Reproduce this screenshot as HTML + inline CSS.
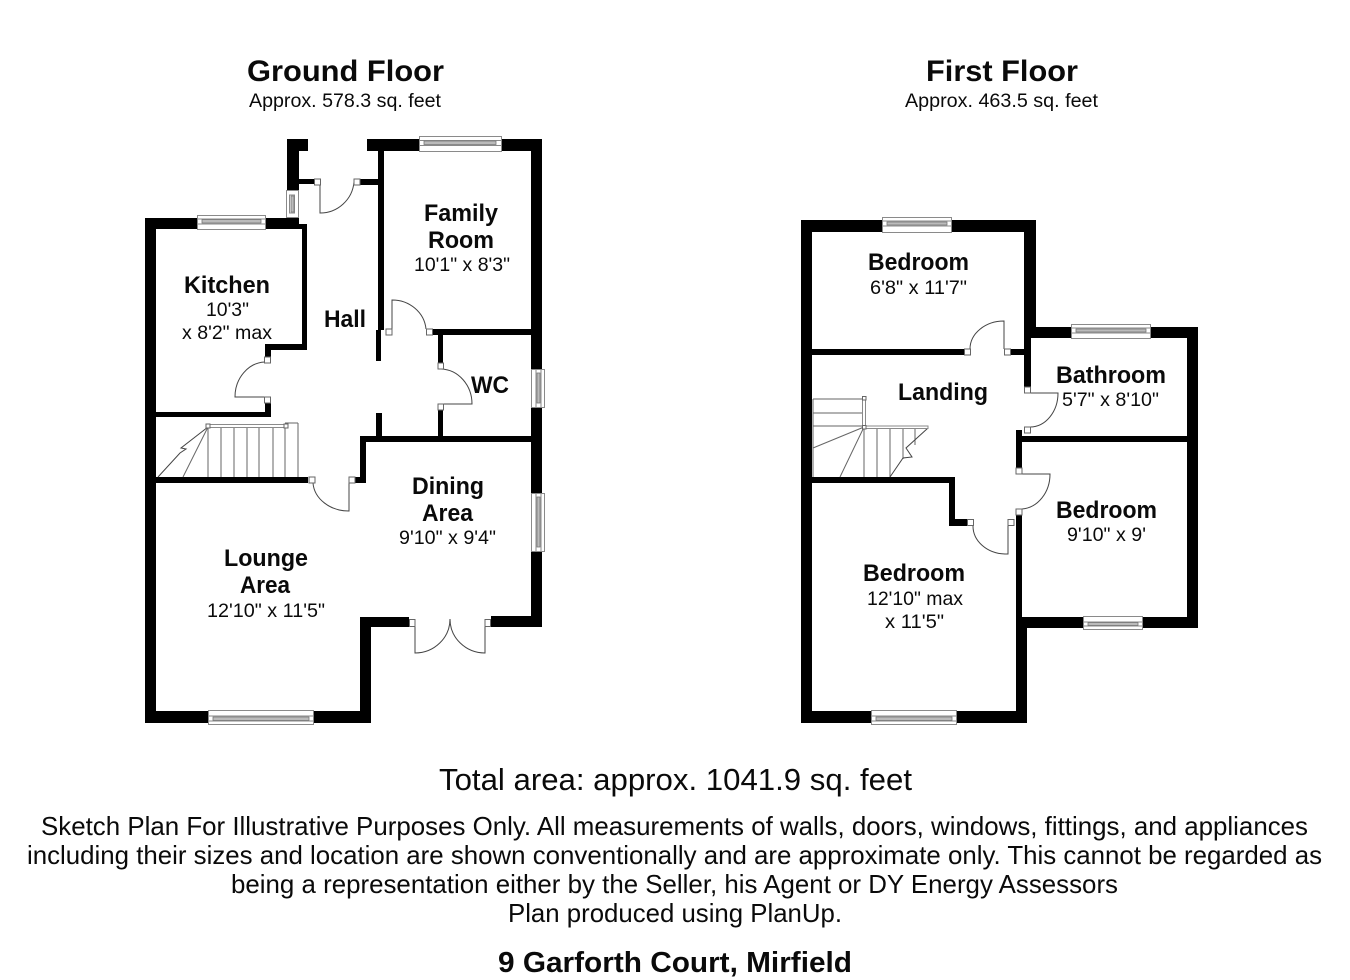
<!DOCTYPE html>
<html>
<head>
<meta charset="utf-8">
<style>
html,body{margin:0;padding:0;background:#fff;width:1350px;height:980px;overflow:hidden}
svg{display:block;filter:blur(.35px)}
text{font-family:"Liberation Sans",Arial,sans-serif;fill:#0a0a0a}
.h{font-weight:bold;font-size:30px}
.a{font-size:19px}
.r{font-weight:bold;font-size:24px}
.d{font-size:19.5px}
.t{font-size:31px}
.f{font-size:26px}
.w{fill:#fff;stroke:#8a8a8a;stroke-width:1}
.b{fill:#bbb;stroke:#777;stroke-width:.8}
.j{fill:#fff;stroke:#666;stroke-width:1}
.l{fill:none;stroke:#444;stroke-width:1}
.s{fill:none;stroke:#666;stroke-width:1}
</style>
</head>
<body>
<svg width="1350" height="980" viewBox="0 0 1350 980" xmlns="http://www.w3.org/2000/svg">
<rect width="1350" height="980" fill="#fff"/>

<!-- walls -->
<path fill="#000" d="
M145 218H197V229H156V412H265V402H271V417H156V477H308V483H156V711H208V723H145Z
M265 218H299V224H307V350H271V357H265V344H302V229H265Z
M287 139H308V151H299V190H287Z
M299 179H315V184H299Z
M360 179H379V185H360Z
M367 139H419V151H384V330H381V361H376V330H378V151H367Z
M501 139H542V369H531V151H501Z
M531 407H542V493H531Z
M531 552H542V627H491V616H531Z
M432 329H531V335H443V367H438V335H432Z
M438 405H443V436H531V442H366V483H354V477H360V436H376V413H382V436H438Z
M360 617H409V627H371V723H313V711H360Z

M801 220H882V232H812V349H964V355H812V477H955V519H968V526H949V483H812V711H871V723H801Z
M951 220H1036V327H1071V338H1031V387H1024V355H1010V349H1024V232H951Z
M1150 327H1198V628H1142V617H1187V442H1022V468H1016V430H1022V436H1187V338H1150Z
M1016 515H1022V617H1083V628H1027V723H956V711H1016Z
"/>

<!-- ground floor windows -->
<rect class="w" x="419.5" y="136.5" width="82" height="15"/>
<rect class="w" x="419.5" y="140.5" width="82" height="5"/>
<rect class="b" x="424" y="141" width="72" height="3.5"/>
<rect class="w" x="286.5" y="190.5" width="12" height="27"/>
<rect class="w" x="289.5" y="195" width="5" height="18"/>
<rect class="b" x="291" y="196" width="3" height="16"/>
<rect class="w" x="197.5" y="215.5" width="68" height="14"/>
<rect class="w" x="197.5" y="219" width="68" height="5"/>
<rect class="b" x="202" y="219.5" width="59" height="3.5"/>
<rect class="w" x="531.5" y="369.5" width="13" height="38"/>
<rect class="w" x="536" y="369.5" width="5" height="38"/>
<rect class="b" x="537" y="373" width="3" height="30"/>
<rect class="w" x="531.5" y="493.5" width="13" height="58"/>
<rect class="w" x="536" y="493.5" width="5" height="58"/>
<rect class="b" x="537" y="497" width="3" height="50"/>
<rect class="w" x="208.5" y="710.5" width="105" height="14"/>
<rect class="w" x="208.5" y="716" width="105" height="5"/>
<rect class="b" x="213" y="717" width="96" height="3.5"/>

<!-- first floor windows -->
<rect class="w" x="882.5" y="217.5" width="69" height="15"/>
<rect class="w" x="882.5" y="221" width="69" height="5"/>
<rect class="b" x="887" y="222" width="60" height="3"/>
<rect class="w" x="1071.5" y="324.5" width="79" height="14"/>
<rect class="w" x="1071.5" y="328" width="79" height="5"/>
<rect class="b" x="1076" y="329" width="70" height="3"/>
<rect class="w" x="1083.5" y="616.5" width="59" height="13"/>
<rect class="w" x="1083.5" y="622" width="59" height="4"/>
<rect class="b" x="1088" y="622.5" width="50" height="3"/>
<rect class="w" x="871.5" y="710.5" width="85" height="14"/>
<rect class="w" x="871.5" y="716" width="85" height="5"/>
<rect class="b" x="876" y="717" width="76" height="3.5"/>

<!-- ground floor doors -->
<path class="l" d="M320 184V213A34 34 0 0 0 354 182"/>
<rect class="j" x="314.5" y="179" width="6" height="6"/><rect class="j" x="354" y="179" width="6" height="6"/>
<path class="l" d="M392 335V300A34 32 0 0 1 426 329"/>
<rect class="j" x="386" y="329" width="6" height="6"/><rect class="j" x="426.5" y="329" width="6" height="6"/>
<path class="l" d="M265 362A31 35 0 0 0 235 397H265"/>
<rect class="j" x="264.5" y="357" width="6" height="6"/><rect class="j" x="264.5" y="397" width="6" height="6"/>
<path class="l" d="M441 369A32 35 0 0 1 472 404H440"/>
<rect class="j" x="438" y="363" width="5.5" height="6"/><rect class="j" x="438" y="404" width="5.5" height="6"/>
<path class="l" d="M313 483A36 30 0 0 0 349 511V483"/>
<rect class="j" x="309" y="477" width="6" height="6"/><rect class="j" x="349" y="477" width="6" height="6"/>
<path class="l" d="M415 627V653A35 34 0 0 0 450 619A35 34 0 0 0 485 653V627"/>
<rect class="j" x="409.5" y="619.5" width="5.5" height="7"/><rect class="j" x="485" y="619.5" width="5.5" height="7"/>

<!-- ground floor stairs -->
<path class="s" d="M208 426V477M221 426V477M234 426V477M247 426V477M259 426V477M273 426V477M285 426V477M298 423V477M285 423H298"/>
<path class="s" d="M208 427L183 477"/>
<path class="l" d="M208 427L181 448L186 449L180 453L158 477"/>
<rect class="w" x="208" y="424.5" width="78" height="3"/>
<rect class="j" x="206" y="424" width="4" height="4"/><rect class="j" x="284" y="424" width="4" height="4"/>

<!-- first floor doors -->
<path class="l" d="M970 349A34 28 0 0 1 1004 321V349"/>
<rect class="j" x="964.5" y="349" width="6" height="6"/><rect class="j" x="1004.5" y="349" width="6" height="6"/>
<path class="l" d="M1030 393H1058A28 34 0 0 1 1030 427"/>
<rect class="j" x="1024.5" y="387" width="6" height="6"/><rect class="j" x="1024.5" y="427" width="6" height="6"/>
<path class="l" d="M1020 474H1050A30 35 0 0 1 1022 509"/>
<rect class="j" x="1016" y="468" width="6" height="6"/><rect class="j" x="1016" y="509" width="6" height="6"/>
<path class="l" d="M973 526A33 28 0 0 0 1005 554H1008V526"/>
<rect class="j" x="967.5" y="519.5" width="6" height="6"/><rect class="j" x="1008" y="519.5" width="6" height="6"/>

<!-- first floor stairs -->
<path class="s" d="M813 399V477M813 399H862M813 413H862M813 426H862M864 428V477M877 428V477M890 428V477M903 428V459M915 428V445"/>
<path class="s" d="M864 427L813 448M864 427L840 477"/>
<path class="l" d="M928 428L906 448L912 457L903 458L890 477"/>
<rect class="w" x="864" y="426" width="64" height="2.5"/>
<rect class="w" x="862.5" y="398" width="3" height="28"/>
<rect class="j" x="862.5" y="396.5" width="3.5" height="3.5"/><rect class="j" x="862.5" y="425.5" width="3.5" height="3.5"/>

<!-- headings -->
<text class="h" x="247" y="81" textLength="197" lengthAdjust="spacingAndGlyphs">Ground Floor</text>
<text class="a" x="249" y="107" textLength="192" lengthAdjust="spacingAndGlyphs">Approx. 578.3 sq. feet</text>
<text class="h" x="926" y="81" textLength="152" lengthAdjust="spacingAndGlyphs">First Floor</text>
<text class="a" x="905" y="107" textLength="193" lengthAdjust="spacingAndGlyphs">Approx. 463.5 sq. feet</text>

<!-- ground labels -->
<text class="r" x="424" y="221" textLength="74" lengthAdjust="spacingAndGlyphs">Family</text>
<text class="r" x="428" y="248" textLength="66" lengthAdjust="spacingAndGlyphs">Room</text>
<text class="d" x="414" y="271" textLength="96" lengthAdjust="spacingAndGlyphs">10'1" x 8'3"</text>
<text class="r" x="184" y="293" textLength="86" lengthAdjust="spacingAndGlyphs">Kitchen</text>
<text class="d" x="206" y="316" textLength="43" lengthAdjust="spacingAndGlyphs">10'3"</text>
<text class="d" x="182" y="339" textLength="90" lengthAdjust="spacingAndGlyphs">x 8'2" max</text>
<text class="r" x="324" y="327" textLength="42" lengthAdjust="spacingAndGlyphs">Hall</text>
<text class="r" x="471" y="393" textLength="38" lengthAdjust="spacingAndGlyphs">WC</text>
<text class="r" x="412" y="494" textLength="72" lengthAdjust="spacingAndGlyphs">Dining</text>
<text class="r" x="422" y="521" textLength="51" lengthAdjust="spacingAndGlyphs">Area</text>
<text class="d" x="399" y="544" textLength="97" lengthAdjust="spacingAndGlyphs">9'10" x 9'4"</text>
<text class="r" x="224" y="566" textLength="84" lengthAdjust="spacingAndGlyphs">Lounge</text>
<text class="r" x="240" y="593" textLength="50" lengthAdjust="spacingAndGlyphs">Area</text>
<text class="d" x="207" y="617" textLength="118" lengthAdjust="spacingAndGlyphs">12'10" x 11'5"</text>

<!-- first labels -->
<text class="r" x="868" y="270" textLength="101" lengthAdjust="spacingAndGlyphs">Bedroom</text>
<text class="d" x="870" y="294" textLength="97" lengthAdjust="spacingAndGlyphs">6'8" x 11'7"</text>
<text class="r" x="898" y="400" textLength="90" lengthAdjust="spacingAndGlyphs">Landing</text>
<text class="r" x="1056" y="383" textLength="110" lengthAdjust="spacingAndGlyphs">Bathroom</text>
<text class="d" x="1062" y="406" textLength="97" lengthAdjust="spacingAndGlyphs">5'7" x 8'10"</text>
<text class="r" x="1056" y="518" textLength="101" lengthAdjust="spacingAndGlyphs">Bedroom</text>
<text class="d" x="1067" y="541" textLength="79" lengthAdjust="spacingAndGlyphs">9'10" x 9'</text>
<text class="r" x="863" y="581" textLength="102" lengthAdjust="spacingAndGlyphs">Bedroom</text>
<text class="d" x="867" y="605" textLength="96" lengthAdjust="spacingAndGlyphs">12'10" max</text>
<text class="d" x="885" y="628" textLength="59" lengthAdjust="spacingAndGlyphs">x 11'5"</text>

<!-- footer -->
<text class="t" x="439" y="790" textLength="473" lengthAdjust="spacingAndGlyphs">Total area: approx. 1041.9 sq. feet</text>
<text class="f" x="41" y="835" textLength="1267" lengthAdjust="spacingAndGlyphs">Sketch Plan For Illustrative Purposes Only. All measurements of walls, doors, windows, fittings, and appliances</text>
<text class="f" x="27" y="864" textLength="1295" lengthAdjust="spacingAndGlyphs">including their sizes and location are shown conventionally and are approximate only. This cannot be regarded as</text>
<text class="f" x="231" y="893" textLength="887" lengthAdjust="spacingAndGlyphs">being a representation either by the Seller, his Agent or DY Energy Assessors</text>
<text class="f" x="508" y="922" textLength="334" lengthAdjust="spacingAndGlyphs">Plan produced using PlanUp.</text>
<text x="498" y="972" font-size="29" font-weight="bold" textLength="354" lengthAdjust="spacingAndGlyphs">9 Garforth Court, Mirfield</text>
</svg>
</body>
</html>
